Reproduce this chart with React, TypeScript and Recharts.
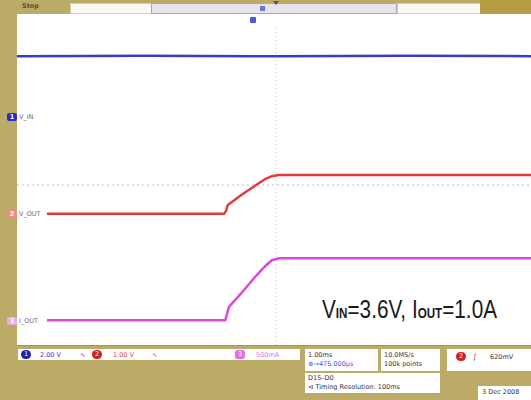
import { LineChart, Line, XAxis, YAxis, ReferenceLine } from 'recharts';

// time in ms (1 ms/div, trigger at 0); level in screen divisions from centre
const vinTime = [-5, -2.5, 0, 2.5, 5];
const vinLevel = [3.22, 3.23, 3.22, 3.23, 3.22];

const voutTime = [-5, -1.0, -0.965, -0.93, -0.69, -0.405, -0.21, -0.08, 0.04, 5];
const voutLevel = [-0.72, -0.72, -0.65, -0.5, -0.27, -0.02, 0.15, 0.22, 0.25, 0.25];

const ioutTime = [-5, -0.98, -0.95, -0.91, -0.79, -0.6, -0.405, -0.21, -0.08, 0.06, 5];
const ioutLevel = [-3.38, -3.38, -3.25, -3.05, -2.88, -2.6, -2.3, -2.03, -1.88, -1.83, -1.83];

const channelNames = ['V_IN', 'V_OUT', 'I_OUT'];
const channelNums = ['1', '2', '3'];
const channelColors = ['#3a3acd', '#e63a3a', '#d84ad8'];
const markerColors = ['#2a2ad0', '#f08888', '#f0a8f0'];
const channelGround = [1.7, -0.72, -3.4];

const OLIVE = '#bcab66';
const PLOT_TOP = 25;
const DIV_PX = 40;

const toRows = (t: number[], v: number[]) => t.map((x, i) => ({ t: x, v: v[i] }));

const small: React.CSSProperties = { fontFamily: 'DejaVu Sans, sans-serif', fontSize: 6.5, lineHeight: '8px', position: 'absolute' };
const sub: React.CSSProperties = { fontSize: 14, fontWeight: 'bold' };

export default function App() {
  const levelToY = (lv: number) => PLOT_TOP + (4 - lv) * DIV_PX;
  return (
    <div style={{ position: 'fixed', left: 0, top: 0, width: 531, height: 400, background: OLIVE, overflow: 'hidden' }}>
      {/* top bar */}
      <div style={{ ...small, left: 22, top: 2, color: '#5a5028', fontWeight: 'bold' }}>Stop</div>
      <div style={{ position: 'absolute', left: 70, top: 3, width: 80, height: 9, background: '#fbfaf2', border: '1px solid #d8d0a8' }} />
      <div style={{ position: 'absolute', left: 151, top: 3, width: 244, height: 9, background: '#e6e3ea', border: '1px solid #a9a6b0' }} />
      <div style={{ position: 'absolute', left: 397, top: 3, width: 82, height: 9, background: '#fbfaf2', border: '1px solid #d8d0a8' }} />
      <div style={{ position: 'absolute', left: 480, top: 0, width: 51, height: 14, background: '#b59c45' }} />
      <div style={{ position: 'absolute', left: 260, top: 6, width: 5, height: 5, background: '#6a78c8' }} />
      <div style={{ position: 'absolute', left: 273, top: 1, width: 0, height: 0, borderLeft: '3px solid transparent', borderRight: '3px solid transparent', borderTop: '4px solid #556' }} />

      {/* plot area */}
      <div style={{ position: 'absolute', left: 17, top: 14, width: 514, height: 331, background: '#ffffff' }} />
      <div style={{ position: 'absolute', left: 17, top: 345, width: 514, height: 1, background: '#9c9270' }} />
      <div style={{ position: 'absolute', left: 250, top: 17, width: 6, height: 6, background: '#4a5ad0', borderRadius: 1 }} />
      <div style={{ position: 'absolute', left: 17, top: 14 }}>
        <LineChart width={518} height={331} margin={{ top: PLOT_TOP - 14, right: 0, bottom: 0, left: 0 }}>
          <XAxis type="number" dataKey="t" domain={[-5, 5]} hide allowDataOverflow />
          <YAxis type="number" dataKey="v" domain={[-4, 4]} hide allowDataOverflow />
          <ReferenceLine x={0} stroke="#c4c4cc" strokeDasharray="1 3" />
          <ReferenceLine y={0} stroke="#b8c0d0" strokeDasharray="2 3" />
          <Line data={toRows(vinTime, vinLevel)} dataKey="v" type="linear" stroke={channelColors[0]} strokeWidth={2.5} dot={false} isAnimationActive={false} />
          <Line data={toRows(voutTime, voutLevel)} dataKey="v" type="linear" stroke={channelColors[1]} strokeWidth={2.5} dot={false} isAnimationActive={false} />
          <Line data={toRows(ioutTime, ioutLevel)} dataKey="v" type="linear" stroke={channelColors[2]} strokeWidth={2.5} dot={false} isAnimationActive={false} />
        </LineChart>
      </div>

      {/* channel ground markers */}
      {channelNames.map((name, i) => (
        <div key={name}>
          <div style={{ ...small, left: 17, top: levelToY(channelGround[i]) - 4, width: 30, height: 8, background: '#fff' }} />
          <div style={{ ...small, left: 7, top: levelToY(channelGround[i]) - 4, width: 10, height: 8, background: markerColors[i], color: '#fff', textAlign: 'center', borderRadius: 2, fontWeight: 'bold' }}>{channelNums[i]}</div>
          <div style={{ ...small, left: 19, top: levelToY(channelGround[i]) - 4, color: '#6a6a80' }}>{name}</div>
        </div>
      ))}

      {/* annotation */}
      <div style={{ position: 'absolute', left: 322, top: 297, fontFamily: 'Liberation Sans, Arial, sans-serif', fontSize: 25, lineHeight: '25px', color: '#1a1a1a', whiteSpace: 'nowrap', transform: 'scaleX(0.83)', transformOrigin: 'left top' }}>
        V<span style={sub}>IN</span>=3.6V, I<span style={sub}>OUT</span>=1.0A
      </div>

      {/* bottom status */}
      <div style={{ position: 'absolute', left: 18, top: 349, width: 282, height: 11, background: '#fff' }} />
      <div style={{ ...small, left: 21, top: 350, width: 10, height: 9, borderRadius: 5, background: '#2222b0', color: '#fff', textAlign: 'center' }}>1</div>
      <div style={{ ...small, left: 40, top: 351, color: '#3a3acd' }}>2.00 V</div>
      <div style={{ ...small, left: 80, top: 351, color: '#3a3acd' }}>∿</div>
      <div style={{ ...small, left: 92, top: 350, width: 10, height: 9, borderRadius: 5, background: '#d02020', color: '#fff', textAlign: 'center' }}>2</div>
      <div style={{ ...small, left: 113, top: 351, color: '#e63a3a' }}>1.00 V</div>
      <div style={{ ...small, left: 152, top: 351, color: '#e63a3a' }}>∿</div>
      <div style={{ ...small, left: 235, top: 350, width: 10, height: 9, borderRadius: 3, background: '#e070e0', color: '#fff', textAlign: 'center' }}>3</div>
      <div style={{ ...small, left: 256, top: 351, color: '#e070e0' }}>500mA</div>

      <div style={{ position: 'absolute', left: 305, top: 349, width: 73, height: 22, background: '#fff' }} />
      <div style={{ ...small, left: 308, top: 351, color: '#333' }}>1.00ms</div>
      <div style={{ ...small, left: 308, top: 360, color: '#3a5ad0' }}>⊕→475.000µs</div>
      <div style={{ position: 'absolute', left: 381, top: 349, width: 59, height: 22, background: '#fff' }} />
      <div style={{ ...small, left: 384, top: 351, color: '#333' }}>10.0MS/s</div>
      <div style={{ ...small, left: 384, top: 360, color: '#333' }}>100k points</div>
      <div style={{ position: 'absolute', left: 447, top: 349, width: 84, height: 22, background: '#fff' }} />
      <div style={{ ...small, left: 456, top: 352, width: 10, height: 9, borderRadius: 5, background: '#d02020', color: '#fff', textAlign: 'center' }}>2</div>
      <div style={{ ...small, left: 473, top: 353, color: '#333' }}>∫</div>
      <div style={{ ...small, left: 490, top: 353, color: '#333' }}>620mV</div>
      <div style={{ position: 'absolute', left: 305, top: 373, width: 135, height: 20, background: '#fff' }} />
      <div style={{ ...small, left: 308, top: 374, color: '#333' }}>D15–D0</div>
      <div style={{ ...small, left: 308, top: 383, color: '#333' }}>⊲ Timing Resolution: 100ms</div>
      <div style={{ position: 'absolute', left: 478, top: 386, width: 53, height: 14, background: '#fff' }} />
      <div style={{ ...small, left: 482, top: 388, color: '#333' }}>3 Dec 2008</div>
    </div>
  );
}
